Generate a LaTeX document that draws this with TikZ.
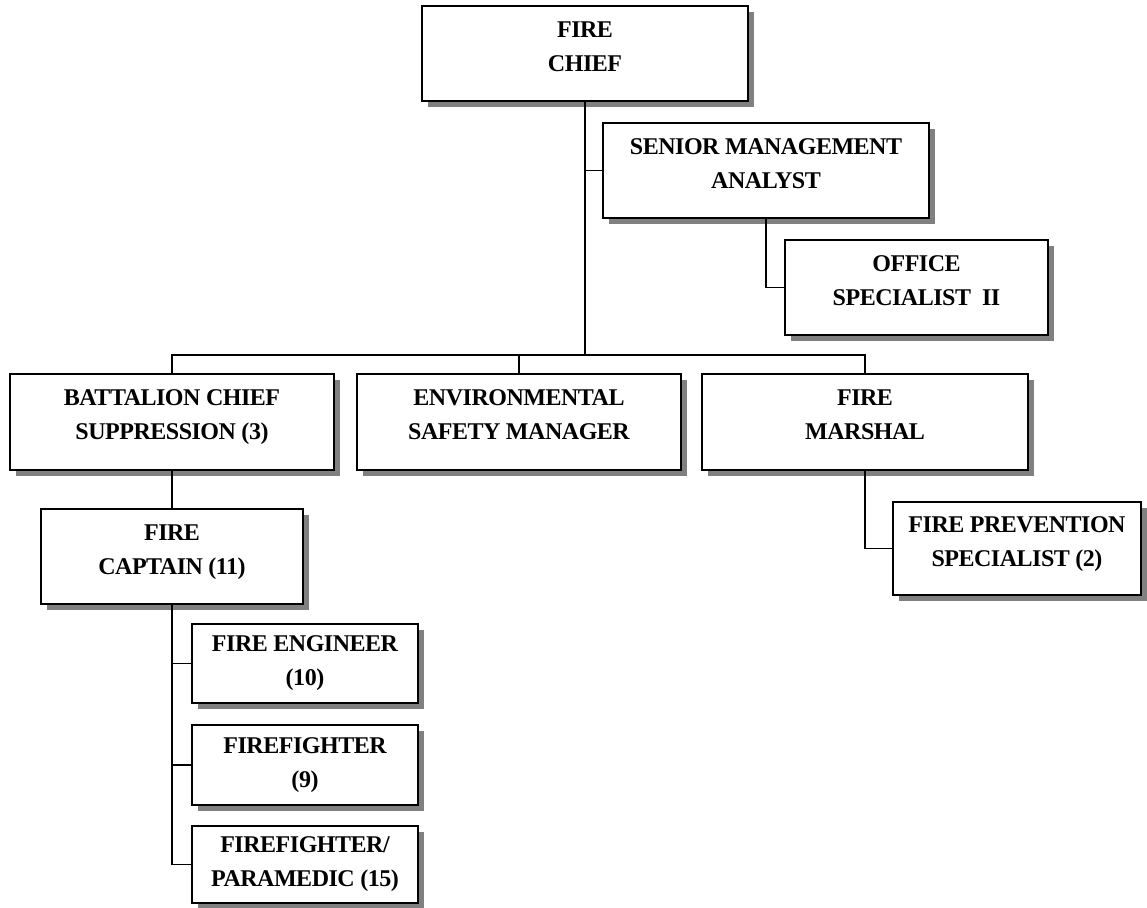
\documentclass[tikz,border=0pt]{standalone}
\usepackage{fontspec}
\setmainfont{Liberation Serif}[LetterSpace=-2]
\usetikzlibrary{shadows}
\def\busY{355}
\def\crewX{305}

\begin{document}
\begin{tikzpicture}[
  x=0.5pt, y=-0.5pt,
  post/.style  = {draw, line width=0.8pt, fill=white, align=center, inner sep=0pt,
                  font=\bfseries\fontsize{12}{17}\selectfont,
                  minimum height=47.5pt, text depth=7pt,
                  drop shadow={shadow xshift=2.8pt, shadow yshift=-2.8pt,
                               fill=black!50, opacity=1}},
  crew/.style  = {post, minimum width=113pt, text depth=},
  link/.style  = {line width=0.75pt},
]
\useasboundingbox (0,0) rectangle (1147,908);

% ---------- top of the chart ----------
\node[post, minimum width=163pt]   (chief)   at (585,53.5)   {FIRE\\CHIEF};
\node[post, minimum width=163pt]   (analyst) at (766,170.5)  {SENIOR MANAGEMENT\\ANALYST};
\node[post, minimum width=131.5pt] (office)  at (916.5,287.5) {OFFICE\\SPECIALIST~~II};

% ---------- division heads ----------
\node[post, minimum width=162pt, minimum height=48pt] (batt)    at (172,422) {BATTALION CHIEF\\SUPPRESSION (3)};
\node[post, minimum width=162pt, minimum height=48pt] (env)     at (519,422) {ENVIRONMENTAL\\SAFETY MANAGER};
\node[post, minimum width=163pt, minimum height=48pt] (marshal) at (865,422) {FIRE\\MARSHAL};
\node[post, minimum width=124pt, minimum height=46.5pt] (prev)  at (1017,548.5) {FIRE PREVENTION\\SPECIALIST (2)};
\node[post, minimum width=131pt] (captain) at (172,556.5) {FIRE\\CAPTAIN (11)};

% ---------- crews under the captain ----------
\node[crew, minimum height=39.5pt] (eng)   at (\crewX,663.5) {FIRE ENGINEER\\(10)};
\node[crew, minimum height=40pt]   (ff)    at (\crewX,765)   {FIREFIGHTER\\(9)};
\node[crew, minimum height=38.5pt] (medic) at (\crewX,864.5) {FIREFIGHTER/\\PARAMEDIC (15)};

% ---------- reporting lines ----------
\coordinate (bus) at (585,\busY);
\draw[link] (chief.south) -- (bus);
\draw[link] (analyst.west) -- (analyst.west -| chief.south);
\draw[link] (analyst.south) |- (office.west);
\draw[link] (batt.north) |- (bus) -| (marshal.north);
\draw[link] (env.north) -- (env.north |- bus);
\draw[link] (marshal.south) |- (prev.west);
\draw[link] (batt.south) -- (captain.north);
\foreach \n in {eng,ff,medic}{
  \draw[link] (captain.south) |- (\n.west);
}

\end{tikzpicture}
\end{document}
